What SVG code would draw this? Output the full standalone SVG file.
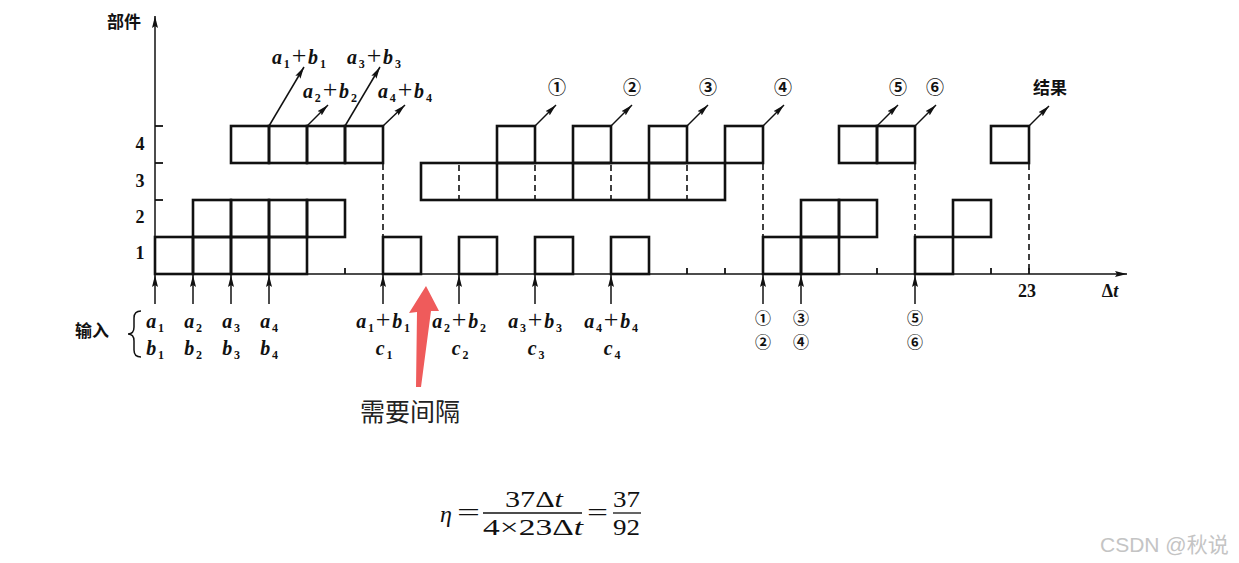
<svg xmlns="http://www.w3.org/2000/svg" width="1239" height="563" viewBox="0 0 1239 563">
<style>
.cell{fill:none;stroke:#111;stroke-width:2.6}
.dash{fill:none;stroke:#111;stroke-width:1.6;stroke-dasharray:6 4}
.ax{fill:none;stroke:#111;stroke-width:1.5}
.arr{fill:none;stroke:#111;stroke-width:1.5}
.tick{stroke:#111;stroke-width:1.8}
.m{font-family:"Liberation Serif",serif;font-style:italic;font-weight:bold;font-size:20px;fill:#111;letter-spacing:1.8px}
.sb{font-size:12px;font-style:normal}
.pl{font-size:26px;font-style:normal;font-weight:normal}
.num{font-family:"Liberation Serif",serif;font-weight:bold;font-size:18px;fill:#111;text-anchor:middle}
.cn{font-family:"Noto Sans CJK SC",sans-serif;font-weight:bold;font-size:17px;fill:#111}
.cir{font-family:"Noto Sans CJK SC",sans-serif;font-weight:bold;font-size:18px;fill:#111;text-anchor:middle}
.cir2{font-family:"Noto Sans CJK SC",sans-serif;font-weight:bold;font-size:16px;fill:#111;text-anchor:middle}
.fm{font-family:"Liberation Serif",serif;font-size:24px;fill:#111}
</style>
<defs>
<marker id="ah" markerUnits="userSpaceOnUse" markerWidth="14" markerHeight="8" refX="12" refY="4" orient="auto"><path d="M0,1 L12,4 L0,7 L2,4 z" fill="#111"/></marker>
</defs>

<g id="axes">
<line class="ax" x1="155" y1="274" x2="155" y2="16" marker-end="url(#ah)"/>
<line class="ax" x1="155" y1="274" x2="1127" y2="274" marker-end="url(#ah)"/>
<g class="tick">
<line x1="155" y1="126" x2="163" y2="126"/><line x1="155" y1="163" x2="163" y2="163"/><line x1="155" y1="200" x2="163" y2="200"/><line x1="155" y1="237" x2="163" y2="237"/>
<line x1="345" y1="274" x2="345" y2="268"/><line x1="421" y1="274" x2="421" y2="268"/><line x1="497" y1="274" x2="497" y2="268"/><line x1="573" y1="274" x2="573" y2="268"/><line x1="649" y1="274" x2="649" y2="268"/><line x1="687" y1="274" x2="687" y2="268"/><line x1="725" y1="274" x2="725" y2="268"/><line x1="877" y1="274" x2="877" y2="268"/><line x1="991" y1="274" x2="991" y2="268"/><line x1="1029" y1="274" x2="1029" y2="268"/>
</g>
<text class="cn" x="107" y="28">部件</text>
<text class="num" x="140" y="150">4</text>
<text class="num" x="140" y="187">3</text>
<text class="num" x="140" y="223">2</text>
<text class="num" x="140" y="259">1</text>
<text class="num" x="1027" y="297">23</text>
<text class="num" x="1110" y="297">Δ<tspan font-style="italic">t</tspan></text>
</g>

<g id="unit1">
<rect class="cell" x="155" y="237" width="38" height="37"/><rect class="cell" x="193" y="237" width="38" height="37"/><rect class="cell" x="231" y="237" width="38" height="37"/><rect class="cell" x="269" y="237" width="38" height="37"/>
<rect class="cell" x="383" y="237" width="38" height="37"/><rect class="cell" x="459" y="237" width="38" height="37"/><rect class="cell" x="535" y="237" width="38" height="37"/><rect class="cell" x="611" y="237" width="38" height="37"/>
<rect class="cell" x="763" y="237" width="38" height="37"/><rect class="cell" x="801" y="237" width="38" height="37"/><rect class="cell" x="915" y="237" width="38" height="37"/>
</g>
<g id="unit2">
<rect class="cell" x="193" y="200" width="38" height="37"/><rect class="cell" x="231" y="200" width="38" height="37"/><rect class="cell" x="269" y="200" width="38" height="37"/><rect class="cell" x="307" y="200" width="38" height="37"/>
<rect class="cell" x="801" y="200" width="38" height="37"/><rect class="cell" x="839" y="200" width="38" height="37"/><rect class="cell" x="953" y="200" width="38" height="37"/>
</g>
<g id="unit3">
<rect class="cell" x="421" y="163" width="304" height="37"/>
<line class="cell" x1="497" y1="163" x2="497" y2="200"/><line class="cell" x1="573" y1="163" x2="573" y2="200"/><line class="cell" x1="649" y1="163" x2="649" y2="200"/>
<line class="dash" x1="459" y1="165" x2="459" y2="199"/><line class="dash" x1="535" y1="165" x2="535" y2="199"/><line class="dash" x1="611" y1="165" x2="611" y2="199"/><line class="dash" x1="687" y1="165" x2="687" y2="199"/>
</g>
<g id="unit4">
<rect class="cell" x="231" y="126" width="38" height="37"/><rect class="cell" x="269" y="126" width="38" height="37"/><rect class="cell" x="307" y="126" width="38" height="37"/><rect class="cell" x="345" y="126" width="38" height="37"/>
<rect class="cell" x="497" y="126" width="38" height="37"/><rect class="cell" x="573" y="126" width="38" height="37"/><rect class="cell" x="649" y="126" width="38" height="37"/><rect class="cell" x="725" y="126" width="38" height="37"/>
<rect class="cell" x="839" y="126" width="38" height="37"/><rect class="cell" x="877" y="126" width="38" height="37"/><rect class="cell" x="991" y="126" width="38" height="37"/>
</g>

<g id="connectors">
<line class="dash" x1="383" y1="164" x2="383" y2="236"/>
<line class="dash" x1="763" y1="164" x2="763" y2="236"/>
<line class="dash" x1="915" y1="164" x2="915" y2="236"/>
<line class="dash" x1="1029" y1="164" x2="1029" y2="273"/>
<g class="arr">
<line x1="155" y1="304" x2="155" y2="275" marker-end="url(#ah)"/><line x1="193" y1="304" x2="193" y2="275" marker-end="url(#ah)"/><line x1="231" y1="304" x2="231" y2="275" marker-end="url(#ah)"/><line x1="269" y1="304" x2="269" y2="275" marker-end="url(#ah)"/>
<line x1="383" y1="304" x2="383" y2="275" marker-end="url(#ah)"/><line x1="459" y1="304" x2="459" y2="275" marker-end="url(#ah)"/><line x1="535" y1="304" x2="535" y2="275" marker-end="url(#ah)"/><line x1="611" y1="304" x2="611" y2="275" marker-end="url(#ah)"/>
<line x1="763" y1="304" x2="763" y2="275" marker-end="url(#ah)"/><line x1="801" y1="304" x2="801" y2="275" marker-end="url(#ah)"/><line x1="915" y1="304" x2="915" y2="275" marker-end="url(#ah)"/>
<line x1="269" y1="126" x2="304" y2="67" marker-end="url(#ah)"/>
<line x1="307" y1="126" x2="328" y2="105" marker-end="url(#ah)"/>
<line x1="345" y1="126" x2="380" y2="67" marker-end="url(#ah)"/>
<line x1="383" y1="126" x2="405" y2="105" marker-end="url(#ah)"/>
<line x1="535" y1="126" x2="556" y2="105" marker-end="url(#ah)"/>
<line x1="611" y1="126" x2="632" y2="105" marker-end="url(#ah)"/>
<line x1="687" y1="126" x2="708" y2="105" marker-end="url(#ah)"/>
<line x1="763" y1="126" x2="784" y2="105" marker-end="url(#ah)"/>
<line x1="877" y1="126" x2="898" y2="105" marker-end="url(#ah)"/>
<line x1="915" y1="126" x2="936" y2="105" marker-end="url(#ah)"/>
<line x1="1029" y1="126" x2="1049" y2="106" marker-end="url(#ah)"/>
</g>
</g>

<g id="top-labels">
<text class="m" x="272" y="64">a<tspan class="sb" dy="4">1</tspan><tspan class="pl" dy="-4">+</tspan>b<tspan class="sb" dy="4">1</tspan></text>
<text class="m" x="347" y="64">a<tspan class="sb" dy="4">3</tspan><tspan class="pl" dy="-4">+</tspan>b<tspan class="sb" dy="4">3</tspan></text>
<text class="m" x="303" y="98">a<tspan class="sb" dy="4">2</tspan><tspan class="pl" dy="-4">+</tspan>b<tspan class="sb" dy="4">2</tspan></text>
<text class="m" x="378" y="98">a<tspan class="sb" dy="4">4</tspan><tspan class="pl" dy="-4">+</tspan>b<tspan class="sb" dy="4">4</tspan></text>
<text class="cir" x="557" y="94">①</text>
<text class="cir" x="632" y="94">②</text>
<text class="cir" x="708" y="94">③</text>
<text class="cir" x="783" y="94">④</text>
<text class="cir" x="898" y="94">⑤</text>
<text class="cir" x="935" y="94">⑥</text>
<text class="cn" x="1033" y="94">结果</text>
</g>

<g id="input-labels">
<text class="cn" x="75" y="337">输入</text>
<path d="M141,311 Q134,311 134,318 L134,327 Q134,334 128,334 Q134,334 134,341 L134,350 Q134,357 141,357" fill="none" stroke="#111" stroke-width="1.5"/>
<g style="text-anchor:middle">
<text class="m" x="156" y="328">a<tspan class="sb" dy="4">1</tspan></text>
<text class="m" x="194" y="328">a<tspan class="sb" dy="4">2</tspan></text>
<text class="m" x="232" y="328">a<tspan class="sb" dy="4">3</tspan></text>
<text class="m" x="270" y="328">a<tspan class="sb" dy="4">4</tspan></text>
<text class="m" x="156" y="355">b<tspan class="sb" dy="4">1</tspan></text>
<text class="m" x="194" y="355">b<tspan class="sb" dy="4">2</tspan></text>
<text class="m" x="232" y="355">b<tspan class="sb" dy="4">3</tspan></text>
<text class="m" x="270" y="355">b<tspan class="sb" dy="4">4</tspan></text>
<text class="m" x="384" y="328">a<tspan class="sb" dy="4">1</tspan><tspan class="pl" dy="-4">+</tspan>b<tspan class="sb" dy="4">1</tspan></text>
<text class="m" x="460" y="328">a<tspan class="sb" dy="4">2</tspan><tspan class="pl" dy="-4">+</tspan>b<tspan class="sb" dy="4">2</tspan></text>
<text class="m" x="536" y="328">a<tspan class="sb" dy="4">3</tspan><tspan class="pl" dy="-4">+</tspan>b<tspan class="sb" dy="4">3</tspan></text>
<text class="m" x="612" y="328">a<tspan class="sb" dy="4">4</tspan><tspan class="pl" dy="-4">+</tspan>b<tspan class="sb" dy="4">4</tspan></text>
<text class="m" x="385" y="355">c<tspan class="sb" dy="4">1</tspan></text>
<text class="m" x="461" y="355">c<tspan class="sb" dy="4">2</tspan></text>
<text class="m" x="537" y="355">c<tspan class="sb" dy="4">3</tspan></text>
<text class="m" x="613" y="355">c<tspan class="sb" dy="4">4</tspan></text>
</g>
<text class="cir2" x="763" y="324">①</text>
<text class="cir2" x="763" y="348">②</text>
<text class="cir2" x="801" y="324">③</text>
<text class="cir2" x="801" y="348">④</text>
<text class="cir2" x="915" y="324">⑤</text>
<text class="cir2" x="915" y="348">⑥</text>
</g>

<g id="annotation">
<polygon points="426,286 439,311 431,311 421,387 416,387 417,312 409,313" fill="#ef5b5b"/>
<text x="360" y="421" style="font-family:'Noto Sans CJK SC',sans-serif;font-size:25px;fill:#222">需要间隔</text>
</g>

<g id="formula">
<text class="fm" x="440" y="522" font-style="italic">η</text>
<text class="fm" x="457" y="520" textLength="23" lengthAdjust="spacingAndGlyphs">=</text>
<text class="fm" x="505" y="507" textLength="58" lengthAdjust="spacingAndGlyphs">37Δ<tspan font-style="italic">t</tspan></text>
<line x1="483" y1="513" x2="582" y2="513" stroke="#111" stroke-width="1.3"/>
<text class="fm" x="483" y="535" textLength="100" lengthAdjust="spacingAndGlyphs">4×23Δ<tspan font-style="italic">t</tspan></text>
<text class="fm" x="587" y="520" textLength="21" lengthAdjust="spacingAndGlyphs">=</text>
<text class="fm" x="613" y="507" textLength="27" lengthAdjust="spacingAndGlyphs">37</text>
<line x1="613" y1="513" x2="641" y2="513" stroke="#111" stroke-width="1.3"/>
<text class="fm" x="613" y="535" textLength="27" lengthAdjust="spacingAndGlyphs">92</text>
</g>

<text x="1100" y="552" style="font-family:'Liberation Sans','Noto Sans CJK SC',sans-serif;font-size:21px;fill:#c4c4c4">CSDN @秋说</text>
</svg>
